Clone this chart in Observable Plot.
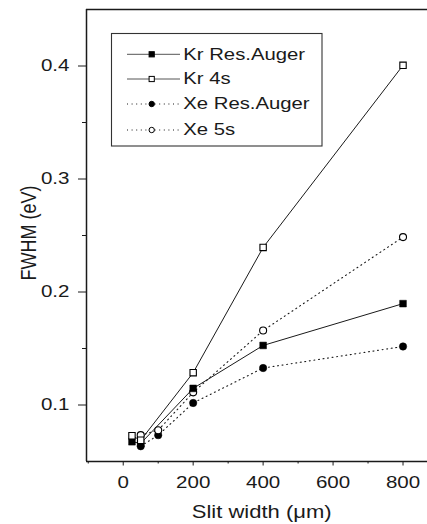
<!DOCTYPE html>
<html>
<head>
<meta charset="utf-8">
<script src="https://cdn.jsdelivr.net/npm/d3@7"></script>
<script src="https://cdn.jsdelivr.net/npm/@observablehq/plot@0.6"></script>
<style>
  body { margin: 0; background: #fff; }
  #wrap { position: relative; width: 427px; height: 524px; font-family: "Liberation Sans", Arial, Helvetica, sans-serif; }
  #legend { position: absolute; left: 0; top: 0; }
</style>
</head>
<body>
<div id="wrap"></div>
<script>
// ---- data ----
const slitKr = [25, 50, 200, 400, 800];
const krAuger = [0.0675, 0.066, 0.1147, 0.1527, 0.1897];
const kr4s = [0.0728, 0.0688, 0.1286, 0.2394, 0.4006];
const slitXe = [50, 100, 200, 400, 800];
const xeAuger = [0.0635, 0.0733, 0.1018, 0.1327, 0.1518];
const xe5s = [0.0733, 0.0777, 0.1112, 0.1659, 0.2486];

const seriesNames = ["Kr Res.Auger", "Kr 4s", "Xe Res.Auger", "Xe 5s"];
const xMajorTicks = [0, 200, 400, 600, 800];
const xMinorTicks = [-100, 100, 300, 500, 700];
const yMajorTicks = [0.1, 0.2, 0.3, 0.4];
const yMinorTicks = [0.15, 0.25, 0.35];
const xDomain = [-105, 870];
const yDomain = [0.05, 0.45];
const xLabel = "Slit width (\u03bcm)";
const yLabel = "FWHM (eV)";

const rows = (xs, ys) => xs.map((x, i) => ({x, y: ys[i]}));
const dKrA = rows(slitKr, krAuger);
const dKr4 = rows(slitKr, kr4s);
const dXeA = rows(slitXe, xeAuger);
const dXe5 = rows(slitXe, xe5s);

const ink = "#1a1a1a";
const TEXT_SCALE = 1.245;
const DOTS = "1,3.6";

const chart = Plot.plot({
  width: 427,
  height: 524,
  marginLeft: 86,
  marginRight: 0,
  marginTop: 9,
  marginBottom: 63,
  style: {fontFamily: '"Liberation Sans", Arial, Helvetica, sans-serif', fontSize: "16.5px", color: ink, background: "#fff"},
  x: {domain: xDomain, axis: null},
  y: {domain: yDomain, axis: null},
  marks: [
    Plot.ruleX([xDomain[0]], {stroke: ink, strokeWidth: 1.5}),
    Plot.ruleY([yDomain[0]], {stroke: ink, strokeWidth: 1.4}),
    Plot.ruleY([yDomain[1]], {stroke: ink, strokeWidth: 1.4}),
    Plot.axisX({ticks: xMajorTicks, tickSize: 4.5, tickPadding: 10, label: null, stroke: ink}),
    Plot.axisX({ticks: xMinorTicks, tickSize: 2.5, tickFormat: () => "", label: null, stroke: ink}),
    Plot.axisY({ticks: yMajorTicks, tickSize: 8, tickPadding: 9, label: null, tickFormat: d3.format(".1f"), stroke: ink}),
    Plot.axisY({ticks: yMinorTicks, tickSize: 4, tickFormat: () => "", label: null, stroke: ink}),
    Plot.line(dKr4, {x: "x", y: "y", stroke: ink, strokeWidth: 1}),
    Plot.line(dKrA, {x: "x", y: "y", stroke: ink, strokeWidth: 1}),
    Plot.line(dXe5, {x: "x", y: "y", stroke: ink, strokeWidth: 1.1, strokeDasharray: DOTS}),
    Plot.line(dXeA, {x: "x", y: "y", stroke: ink, strokeWidth: 1.1, strokeDasharray: DOTS}),
    Plot.dot(dXeA, {x: "x", y: "y", r: 3.7, fill: "#000", stroke: "#000", strokeWidth: 0.5}),
    Plot.dot(dXe5, {x: "x", y: "y", r: 3.5, fill: "#fff", stroke: "#000", strokeWidth: 1.1}),
    Plot.dot(dKrA, {x: "x", y: "y", r: 3.8, symbol: "square", fill: "#000", stroke: "#000", strokeWidth: 0.5}),
    Plot.dot(dKr4, {x: "x", y: "y", r: 3.6, symbol: "square", fill: "#fff", stroke: "#000", strokeWidth: 1.1})
  ]
});

const wrap = document.getElementById("wrap");
wrap.appendChild(chart);

const svg = d3.select(chart);
// axis titles
svg.append("text")
  .attr("x", 261.7).attr("y", 517.7)
  .attr("text-anchor", "middle")
  .attr("fill", ink)
  .style("font-size", "17.7px")
  .text(xLabel);
svg.append("text")
  .attr("transform", "translate(34.5,233) rotate(-90)")
  .attr("text-anchor", "middle")
  .attr("fill", ink)
  .style("font-size", "18px")
  .text(yLabel);

// legend overlay
const leg = d3.select(wrap).append("svg")
  .attr("id", "legend")
  .attr("width", 427).attr("height", 524)
  .style("pointer-events", "none");
leg.append("rect")
  .attr("x", 111.5).attr("y", 33.5).attr("width", 210.5).attr("height", 112.5)
  .attr("fill", "#fff").attr("stroke", "#333").attr("stroke-width", 1.1);
const legRowsY = [54.3, 79, 104, 130];
const legStyle = [
  {dash: null, sym: "square", fill: "#000"},
  {dash: null, sym: "square", fill: "#fff"},
  {dash: DOTS, sym: "circle", fill: "#000"},
  {dash: DOTS, sym: "circle", fill: "#fff"}
];
seriesNames.forEach((name, i) => {
  const cy = legRowsY[i], st = legStyle[i];
  const ln = leg.append("line")
    .attr("x1", 127).attr("x2", 180).attr("y1", cy).attr("y2", cy)
    .attr("stroke", st.dash ? ink : "#555").attr("stroke-width", 1);
  if (st.dash) ln.attr("stroke-dasharray", st.dash);
  if (st.sym === "square") {
    leg.append("rect").attr("x", 151.7 - 2.6).attr("y", cy - 2.6).attr("width", 5.2).attr("height", 5.2)
      .attr("fill", st.fill).attr("stroke", "#000").attr("stroke-width", 1);
  } else {
    leg.append("circle").attr("cx", 151.7).attr("cy", cy).attr("r", 2.7)
      .attr("fill", st.fill).attr("stroke", "#000").attr("stroke-width", 1);
  }
  leg.append("text")
    .attr("x", 0).attr("y", 0)
    .attr("transform", `translate(183.3,${cy + 5.2}) scale(${TEXT_SCALE},1)`)
    .attr("fill", ink)
    .style("font-family", '"Liberation Sans", Arial, Helvetica, sans-serif')
    .style("font-size", "16.3px")
    .text(name);
});

// the reference's lettering is horizontally wide: stretch chart texts about their anchor
chart.querySelectorAll("text").forEach(t => {
  const r = t.getBoundingClientRect();
  if (!r.width) return;
  const parent = t.parentNode;
  const ctm = parent.getScreenCTM();
  const anchor = getComputedStyle(t).textAnchor;
  const sx = anchor === "end" ? r.right : anchor === "start" ? r.left : (r.left + r.right) / 2;
  const px = (sx - ctm.e) / ctm.a;
  const g = document.createElementNS("http://www.w3.org/2000/svg", "g");
  g.setAttribute("transform", `translate(${px},0) scale(${TEXT_SCALE},1) translate(${-px},0)`);
  parent.insertBefore(g, t);
  g.appendChild(t);
});
</script>
</body>
</html>
